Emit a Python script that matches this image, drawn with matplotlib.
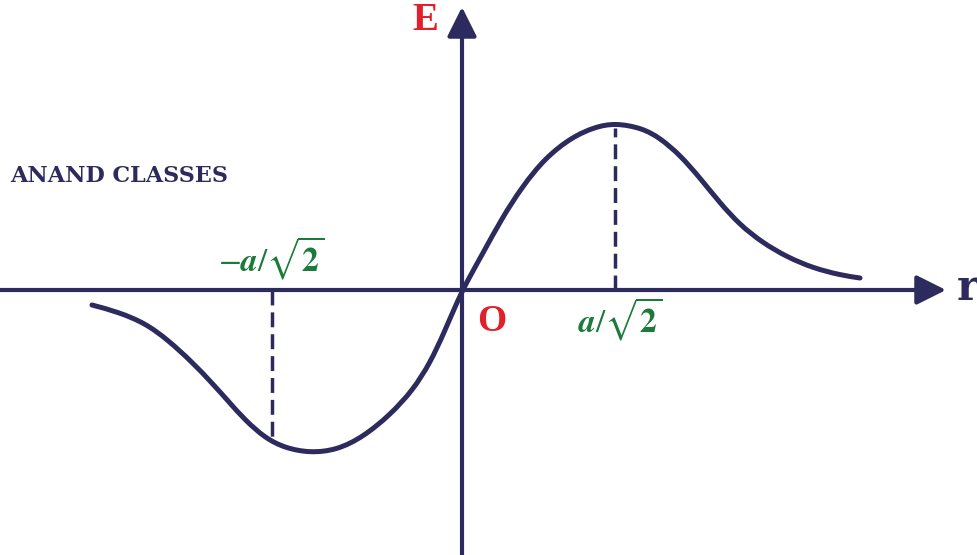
import matplotlib.pyplot as plt
from matplotlib.path import Path
from matplotlib.patches import PathPatch

# Curve (r, E), origin at O, y up
r_vals = [-370, -344, -317, -294, -270, -250, -233, -217, -197, -177, -152, -125, -99, -72, -49, -32, -18, 0,
          20, 40, 60, 83, 110, 133, 153, 180, 198, 218, 238, 258, 278, 301, 325, 351, 378, 398]
E_vals = [-15, -22, -33, -50, -72, -93, -112, -130, -148, -158, -163, -160, -147, -125, -100, -73, -43, 0,
          35, 72, 103, 132, 153, 163, 167, 162, 152, 135, 112, 87, 65, 47, 33, 22, 15, 12]

peak_r = [-190, 153]
peak_E = [-153, 162]

navy = '#2d2a5e'
red = '#e21f2a'
green = '#1b7a3c'

plt.rcParams['mathtext.fontset'] = 'stix'

fig = plt.figure(figsize=(9.78, 5.55), dpi=100)
ax = fig.add_axes([0, 0, 1, 1])
ax.set_xlim(-462, 516)
ax.set_ylim(-265, 290)
ax.axis('off')

# axes with arrows
arrow_style = '-|>,head_length=1.0,head_width=0.5'
ax.annotate('', xy=(484, 0), xytext=(-466, 0),
            arrowprops=dict(arrowstyle=arrow_style, lw=3, color=navy,
                            mutation_scale=18, shrinkA=0, shrinkB=0))
ax.annotate('', xy=(0, 283), xytext=(0, -270),
            arrowprops=dict(arrowstyle=arrow_style, lw=3, color=navy,
                            mutation_scale=18, shrinkA=0, shrinkB=0))

# field curve: cubic B-spline through the read points, drawn as Bezier segments
pts = [(r_vals[0], E_vals[0])] * 2 + list(zip(r_vals, E_vals)) + [(r_vals[-1], E_vals[-1])] * 2
verts, codes = [], []
for i in range(len(pts) - 3):
    p0, p1, p2, p3 = pts[i], pts[i + 1], pts[i + 2], pts[i + 3]
    b0 = ((p0[0] + 4 * p1[0] + p2[0]) / 6, (p0[1] + 4 * p1[1] + p2[1]) / 6)
    b1 = ((2 * p1[0] + p2[0]) / 3, (2 * p1[1] + p2[1]) / 3)
    b2 = ((p1[0] + 2 * p2[0]) / 3, (p1[1] + 2 * p2[1]) / 3)
    b3 = ((p1[0] + 4 * p2[0] + p3[0]) / 6, (p1[1] + 4 * p2[1] + p3[1]) / 6)
    if not verts:
        verts.append(b0)
        codes.append(Path.MOVETO)
    verts += [b1, b2, b3]
    codes += [Path.CURVE4] * 3
ax.add_patch(PathPatch(Path(verts, codes), facecolor='none', edgecolor=navy, lw=3.6,
                       capstyle='round', joinstyle='round'))

# dashed drop lines
for pr, pe in zip(peak_r, peak_E):
    ax.plot([pr, pr], [0, pe], color=navy, lw=2.5, dashes=(4.3, 2.0))

# labels
ax.text(-37, 260, 'E', color=red, fontsize=28, fontweight='bold', family='Liberation Serif',
        ha='center', va='baseline')
ax.text(506, -10, 'r', color=navy, fontsize=30, fontweight='bold', family='DejaVu Serif',
        ha='center', va='baseline')
ax.text(30, -41, 'O', color=red, fontsize=27, fontweight='bold', family='Liberation Serif',
        ha='center', va='baseline')
ax.text(-191, 19, r'$-\boldsymbol{a}/\sqrt{\mathbf{2}}$', color=green, fontsize=24,
        ha='center', va='baseline')
ax.text(158, -42, r'$\boldsymbol{a}/\sqrt{\mathbf{2}}$', color=green, fontsize=24,
        ha='center', va='baseline')
ax.text(-452, 114, 'ANAND CLASSES', color=navy, fontsize=16, fontweight='bold',
        family='DejaVu Serif', ha='left', va='center')

fig.savefig('out.png', dpi=100)
